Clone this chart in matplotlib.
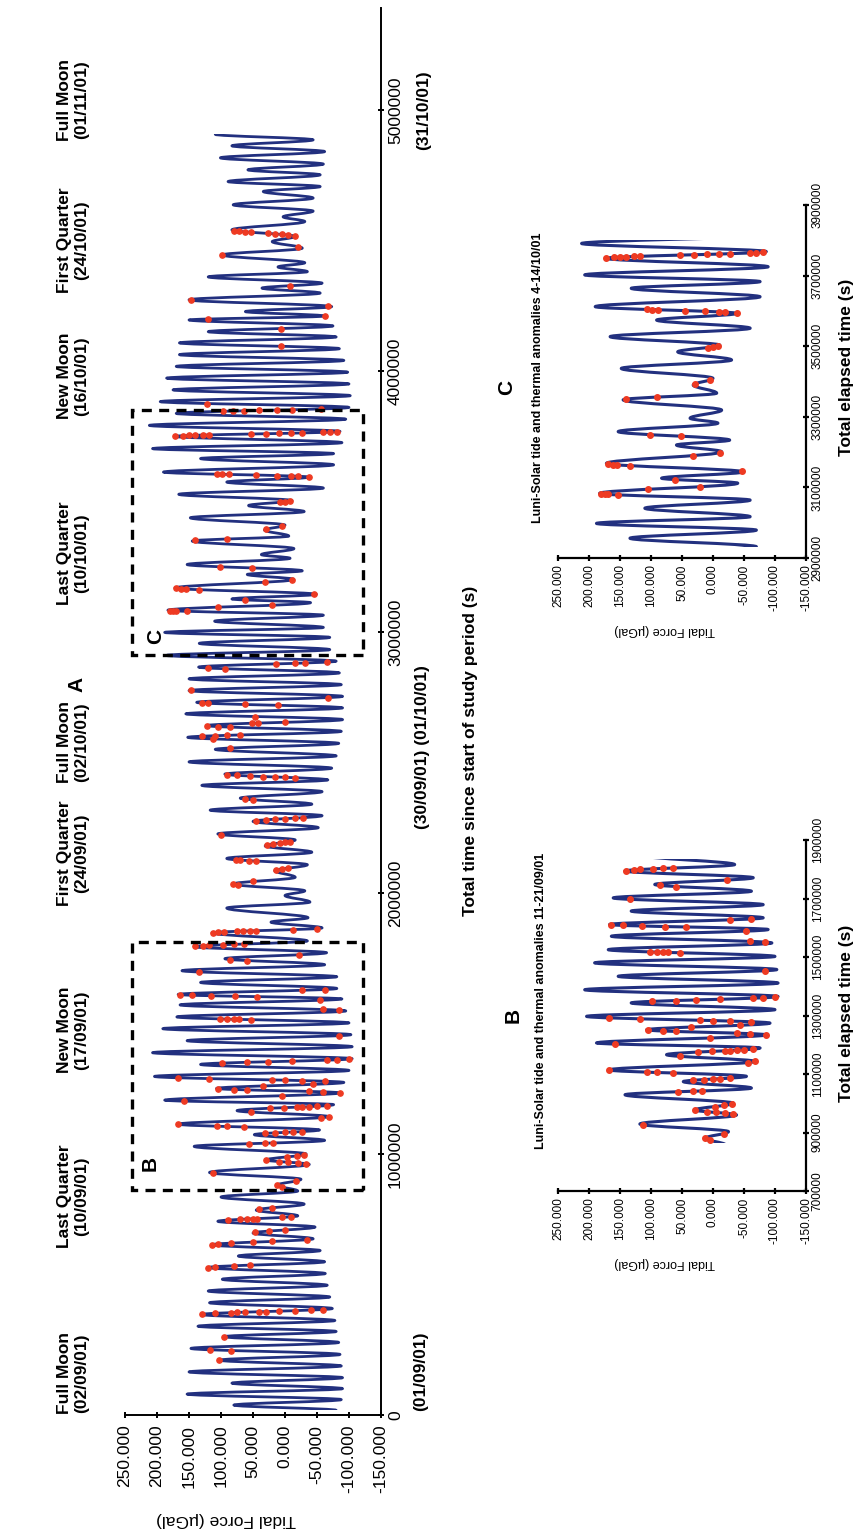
import matplotlib
matplotlib.use("Agg")
import matplotlib.pyplot as plt
from matplotlib.path import Path
from matplotlib.patches import PathPatch, Rectangle

plt.rcParams['font.family'] = ['Liberation Sans', 'DejaVu Sans']

# ---------------- data (time in thousands of seconds, tide in microGal) -------------
# successive turning points (peaks / troughs) of the luni-solar tide
ext_t = [18, 38, 59, 80, 101, 122, 143, 165, 188, 210, 232, 255, 278, 300, 320, 340, 362, 385,
         408, 430, 452, 475, 497, 520, 542, 565, 587, 609, 630, 652, 675, 697, 720, 742, 763,
         785, 808, 835, 858,
         880, 903, 929, 960, 977, 1000, 1029, 1052, 1074, 1092, 1114, 1143, 1166, 1189, 1206,
         1234, 1251, 1274, 1297, 1320, 1343, 1365, 1388, 1411, 1434, 1457, 1480, 1502, 1525,
         1548, 1571, 1594, 1611, 1634, 1657, 1679, 1702, 1725, 1748, 1771, 1794, 1816,
         1847, 1866, 1888, 1905, 1942, 1965, 1990, 2008, 2034, 2060, 2085, 2108, 2132, 2156,
         2180, 2203, 2226, 2250, 2274, 2296, 2317, 2340, 2363, 2388, 2412, 2433, 2455, 2478,
         2502, 2525, 2550, 2573, 2596, 2619, 2641, 2664, 2686, 2709, 2730, 2753, 2775, 2798,
         2820, 2843, 2865, 2888, 2910,
         2932, 2956, 2979, 2998, 3017, 3041, 3064, 3083, 3112, 3126, 3144, 3168, 3201, 3220,
         3234, 3258, 3282, 3296, 3319, 3348, 3367, 3390, 3409, 3437, 3461, 3484, 3503, 3527,
         3551, 3574, 3593, 3612, 3640, 3664, 3683, 3702, 3725, 3749, 3768, 3791,
         3815, 3837, 3860, 3882, 3905, 3927, 3950, 3972, 3995, 4017, 4040, 4062, 4085, 4107,
         4130, 4150, 4172, 4195, 4210, 4227, 4246, 4272, 4298, 4317, 4336, 4360, 4380, 4398,
         4414, 4444, 4470, 4495, 4515, 4540, 4572, 4590, 4612, 4636, 4662, 4687, 4706, 4725,
         4751, 4770, 4792, 4816, 4840, 4862, 4885, 4906]
ext_v = [-80, 80, -88, 153, -90, 83, -90, 150, -88, 103, -86, 147, -84, 95, -80, 136, -78, 130,
         -74, 118, -70, 120, -66, 98, -63, 120, -62, 73, -55, 114, -44, 50, -47, 105, -20,
         45, -30, 100, -20,
         13, -25, 118, -38, 29, -33, 142, -62, 48, -54, 167, -68, 75, -76, 188,
         -86, 107, -92, 204, -100, 132, -105, 207, -105, 153, -103, 191, -100, 169,
         -95, 164, -89, 167, -81, 132, -81, 161, -62, 94, -65, 142, -35,
         114, -58, 22, -36, 91, -39, 0, -31, 81, -16, 16, -35, 91, -42,
         31, -16, 105, -52, 50, -58, 117, -42, 70, -58, 130, -67, 94, -73,
         150, -80, 109, -84, 152, -88, 122, -90, 155, -90, 138, -90, 150, -88,
         150, -85, 135, -80, 185,
         -70, 134, -70, 188, -60, 110, -60, 183, -40, 83, -49, 172, -14, 59,
         -27, 153, -8, 37, -14, 145, -6, 32, 0, 148, -30, 57, -11, 166,
         -60, 91, -38, 190, -76, 132, -76, 207, -89, 172, -86, 212,
         -95, 170, -100, 195, -102, 175, -100, 185, -98, 170, -92, 165, -85, 165,
         -80, 120, -75, 150, -62, 62, -73, 150, -55, 36, -58, 120, -35, 11,
         -31, 98, -27, 20, -16, 83, -31, 3, -44, 81, -44, 34, -55, 89,
         -55, 58, -60, 101, -62, 83, -44, 109]

# thermal anomalies (approximate time, tide value); drawn on the tide curve
red_t = [210, 245, 245, 315, 398, 398, 398, 398, 398, 398, 398, 398, 398, 398, 398,
         582, 582, 582, 582, 660, 660, 660, 660, 660, 662, 705, 705, 705,
         747, 747, 747, 747, 747, 747, 747, 790, 790,
         880, 880, 903, 929, 975, 975, 975, 975, 975, 998, 998, 998, 1029, 1029, 1029,
         1078, 1078, 1078, 1078, 1078, 1114, 1114, 1114, 1114, 1137, 1140, 1166, 1170, 1170,
         1170, 1170, 1168, 1168, 1168, 1206, 1230, 1232, 1232, 1232, 1248, 1248, 1250, 1255,
         1255, 1293, 1293, 1285, 1285, 1285, 1280, 1343, 1343, 1343, 1343, 1345, 1345, 1345,
         1455, 1525, 1525, 1525, 1525, 1525, 1550, 1550, 1590, 1609, 1609, 1609, 1609, 1609,
         1632, 1632, 1702, 1748, 1748, 1760, 1794, 1794, 1794, 1794, 1794, 1794,
         1850, 1850, 1850, 1852, 1852, 1852, 1852, 1855, 1860, 2034, 2034, 2036, 2090, 2090,
         2090, 2132, 2132, 2132, 2132, 2184, 2184, 2184, 2184, 2184, 2226, 2280, 2280, 2280,
         2280, 2280, 2280, 2363, 2363, 2455, 2455, 2455, 2455, 2455, 2455, 2455,
         2560, 2560, 2600, 2600, 2600, 2600, 2641, 2641, 2641, 2645, 2645, 2650, 2674,
         2720, 2720, 2722, 2725, 2740, 2793, 2865, 2865, 2870, 2870, 2872, 2875,
         3083, 3083, 3083, 3085, 3090, 3095, 3126, 3168, 3168, 3168, 3168, 3172, 3178, 3182,
         3250, 3250, 3350, 3352, 3405, 3408, 3503, 3503, 3503, 3600, 3600, 3600, 3602, 3602,
         3602, 3602, 3602, 3749, 3749, 3749, 3749, 3749, 3749, 3752, 3752, 3752, 3752, 3752,
         3768, 3768, 3768,
         3843, 3843, 3843, 3843, 3843, 3843, 3850, 3877, 4107, 4172, 4210, 4212, 4250, 4272,
         4325, 4444, 4479, 4517, 4517, 4517, 4517, 4517, 4540, 4540, 4540, 4540]
red_v = [103, 117, 85, 95, 130, 110, 85, 75, 62, 40, 30, 10, -15, -40, -60,
         120, 110, 80, 55, 114, 105, 85, 50, 20, -35, 47, 25, 0,
         89, 70, 60, 50, 44, 5, -10, 40, 20,
         13, 5, -17, 113, 29, 10, -5, -20, -33, -3, -18, -30, 56, 32, 18,
         32, 15, 0, -12, -27, 167, 107, 91, 64, -57, -68, 53, 24, 2,
         -19, -27, -38, -50, -65, 158, 5, -38, -60, -86, 105, 80, 59, 35,
         -43, 167, 118, 21, 0, -27, -62, 99, 59, 27, -11, -65, -81, -100,
         -84, 102, 91, 80, 72, 53, -60, -84, -54, 164, 145, 115, 78, 43,
         -27, -62, 134, 86, 59, -22, 140, 128, 118, 97, 80, 64,
         112, 104, 96, 75, 66, 55, 46, -12, -50, 81, 74, 50, 14, 5,
         -5, 76, 70, 56, 46, 28, 18, 8, 0, -8, 100, 45, 30, 15,
         0, -15, -28, 62, 50, 90, 75, 55, 35, 15, 0, -15,
         112, 86, 130, 110, 90, 70, 122, 104, 86, 52, 42, 0, 47,
         130, 120, 63, 11, -67, 147, 120, 94, 14, -15, -31, -65,
         180, 175, 170, 153, 105, 21, 62, 170, 162, 155, 134, 32, -11, -46,
         102, 51, 140, 91, 29, 5, 8, 0, -8, 107, 98, 88, 45, 13,
         -10, -20, -38, 172, 160, 150, 140, 128, 118, 53, 30, 10, -10, -27,
         -60, -70, -81,
         97, 82, 64, 40, 13, -11, -56, 122, 6, 6, 120, -62, -67, 147,
         -8, 98, -20, 27, 15, 5, -5, -16, 80, 72, 63, 53]

value_ticks = [250, 200, 150, 100, 50, 0, -50, -100, -150]
main_time_ticks = [0, 1000, 2000, 3000, 4000, 5000]
b_time_ticks = [700, 900, 1100, 1300, 1500, 1700, 1900]
c_time_ticks = [2900, 3100, 3300, 3500, 3700, 3900]

moon_names = ["Full Moon", "Last Quarter", "New Moon", "First Quarter", "Full Moon",
              "Last Quarter", "New Moon", "First Quarter", "Full Moon"]
moon_dates = ["(02/09/01)", "(10/09/01)", "(17/09/01)", "(24/09/01)", "(02/10/01)",
              "(10/10/01)", "(16/10/01)", "(24/10/01)", "(01/11/01)"]

window_A = (18, 4906)
window_B = (865, 1834)
window_C = (2932, 3801)

# ---------------- layout (pixels of the 857 x 1531 canvas) -----------------
W, H = 857, 1531
BLUE = '#22307f'
RED = '#ee3a22'
A_CURVE = 0.36


def fx(px):
    return px / W


def fy(py):
    return 1 - py / H


def axpos(x0, x1, ytop, ybot):
    return [x0 / W, 1 - ybot / H, (x1 - x0) / W, (ybot - ytop) / H]


def bez(p0, p1, p2, p3, u):
    return (1 - u) ** 3 * p0 + 3 * (1 - u) ** 2 * u * p1 + 3 * (1 - u) * u ** 2 * p2 + u ** 3 * p3


def tide_path(T, V):
    verts = [(V[0], T[0])]
    codes = [Path.MOVETO]
    for i in range(len(T) - 1):
        dt = T[i + 1] - T[i]
        verts += [(V[i], T[i] + A_CURVE * dt), (V[i + 1], T[i + 1] - A_CURVE * dt),
                  (V[i + 1], T[i + 1])]
        codes += [Path.CURVE4] * 3
    return Path(verts, codes)


def snap(tq, vq, T, V):
    """place an anomaly marker exactly on the drawn tide curve"""
    best = None
    for i in range(len(T) - 1):
        lo, hi = sorted((V[i], V[i + 1]))
        if lo <= vq <= hi:
            d = abs(0.5 * (T[i] + T[i + 1]) - tq)
            if best is None or d < best[0]:
                best = (d, i)
    if best is None or best[0] > 60:
        j = min(range(len(T)), key=lambda k: abs(T[k] - tq))
        return T[j], V[j]
    i = best[1]
    dt = T[i + 1] - T[i]
    lo_u, hi_u = 0.0, 1.0
    inc = V[i + 1] > V[i]
    for _ in range(40):
        u = 0.5 * (lo_u + hi_u)
        vu = bez(V[i], V[i], V[i + 1], V[i + 1], u)
        if (vu < vq) == inc:
            lo_u = u
        else:
            hi_u = u
    u = 0.5 * (lo_u + hi_u)
    return bez(T[i], T[i] + A_CURVE * dt, T[i + 1] - A_CURVE * dt, T[i + 1], u), vq


snapped = [snap(t, v, ext_t, ext_v) for t, v in zip(red_t, red_v)]
path_all = tide_path(ext_t, ext_v)


def draw_series(ax, window, lw, ms):
    clip = Rectangle((-1000, window[0]), 2000, window[1] - window[0], transform=ax.transData)
    patch = PathPatch(path_all, facecolor='none', edgecolor=BLUE, lw=lw,
                      capstyle='round', joinstyle='round', zorder=2)
    ax.add_patch(patch)
    patch.set_clip_path(clip)
    pts = [(t, v) for t, v in snapped if window[0] <= t <= window[1]]
    ax.plot([p[1] for p in pts], [p[0] for p in pts], 'o', color=RED, mec=RED, ms=ms,
            zorder=3, clip_on=True)


def style_axes(ax, tticks, ylim, fs, lw_sp, tl, pad_x, pad_y):
    ax.set_xlim(250, -150)
    ax.set_ylim(*ylim)
    for s in ['top', 'left']:
        ax.spines[s].set_visible(False)
    for s in ['bottom', 'right']:
        ax.spines[s].set_linewidth(lw_sp)
    ax.yaxis.tick_right()
    ax.set_xticks(value_ticks)
    ax.set_xticklabels([f"{v:.3f}" for v in value_ticks])
    ax.set_yticks(tticks)
    ax.set_yticklabels([str(int(t * 1000)) for t in tticks])
    ax.tick_params(axis='x', direction='inout', length=tl, width=lw_sp, labelsize=fs,
                   labelrotation=90, pad=pad_x)
    ax.tick_params(axis='y', direction='inout', length=tl, width=lw_sp, labelsize=fs,
                   labelrotation=90, pad=pad_y)
    plt.setp(ax.get_yticklabels(), va='center')
    ax.patch.set_alpha(0)


fig = plt.figure(figsize=(W / 100, H / 100), dpi=100)

# ---- main panel A ----
axA = fig.add_axes(axpos(125, 381, 8, 1415))
style_axes(axA, main_time_ticks, (0, 5390), 12.5, 1.4, 5, 4.5, 2.5)
draw_series(axA, window_A, 2.0, 3.8)
for (t0, t1) in [(862, 1812), (2912, 3850)]:
    axA.add_patch(Rectangle((-122, t0), 361, t1 - t0, fill=False, edgecolor='black',
                            lw=2.4, linestyle=(0, (3.0, 2.2)), zorder=4))

moon_y = [1373, 1196, 1030, 853, 742, 553, 376, 240, 100]
for name, date, py in zip(moon_names, moon_dates, moon_y):
    fig.text(fx(73), fy(py), f"{name}\n{date}", rotation=90, ha='center', va='center',
             multialignment='center', fontsize=12.5, fontweight='bold', linespacing=1.15)

fig.text(fx(77), fy(684), "A", rotation=90, ha='center', va='center', fontsize=15,
         fontweight='bold')
fig.text(fx(150), fy(1163), "B", rotation=90, ha='center', va='center', fontsize=15,
         fontweight='bold')
fig.text(fx(156), fy(636), "C", rotation=90, ha='center', va='center', fontsize=15,
         fontweight='bold')
for txt, px, py in [("(01/09/01)", 421, 1371), ("(30/09/01) (01/10/01)", 422, 747),
                    ("(31/10/01)", 424, 110)]:
    fig.text(fx(px), fy(py), txt, rotation=90, ha='center', va='center', fontsize=12.5,
             fontweight='bold')
fig.text(fx(470), fy(751), "Total time since start of study period (s)", rotation=90,
         ha='center', va='center', fontsize=12.5, fontweight='bold')
fig.text(fx(226), fy(1519), "Tidal Force (\u00b5Gal)", rotation=180, ha='center',
         va='center', fontsize=12.5)

# ---- inset panels B and C ----
axB = fig.add_axes(axpos(558, 806, 840, 1191))
style_axes(axB, b_time_ticks, (700, 1900), 8.5, 1.6, 4, 2.5, 2)
draw_series(axB, window_B, 2.2, 4.0)

axC = fig.add_axes(axpos(558, 806, 205, 558))
style_axes(axC, c_time_ticks, (2900, 3900), 8.5, 1.6, 4, 2.5, 2)
draw_series(axC, window_C, 2.2, 4.0)

for letter, title, lx, ly, tx, ty, ey, vy in [
        ("B", "Luni-Solar tide and thermal anomalies 11-21/09/01", 513, 1015, 541, 1001, 1013, 1263),
        ("C", "Luni-Solar tide and thermal anomalies 4-14/10/01", 507, 387, 538, 378, 367, 630)]:
    fig.text(fx(lx), fy(ly), letter, rotation=90, ha='center', va='center', fontsize=15,
             fontweight='bold')
    fig.text(fx(tx), fy(ty), title, rotation=90, ha='center', va='center', fontsize=9,
             fontweight='bold')
    fig.text(fx(847), fy(ey), "Total elapsed time (s)", rotation=90, ha='center',
             va='center', fontsize=12.5, fontweight='bold')
    fig.text(fx(665), fy(vy), "Tidal Force (\u00b5Gal)", rotation=180, ha='center',
             va='center', fontsize=9)

fig.savefig("out.png", dpi=100, facecolor='white')
